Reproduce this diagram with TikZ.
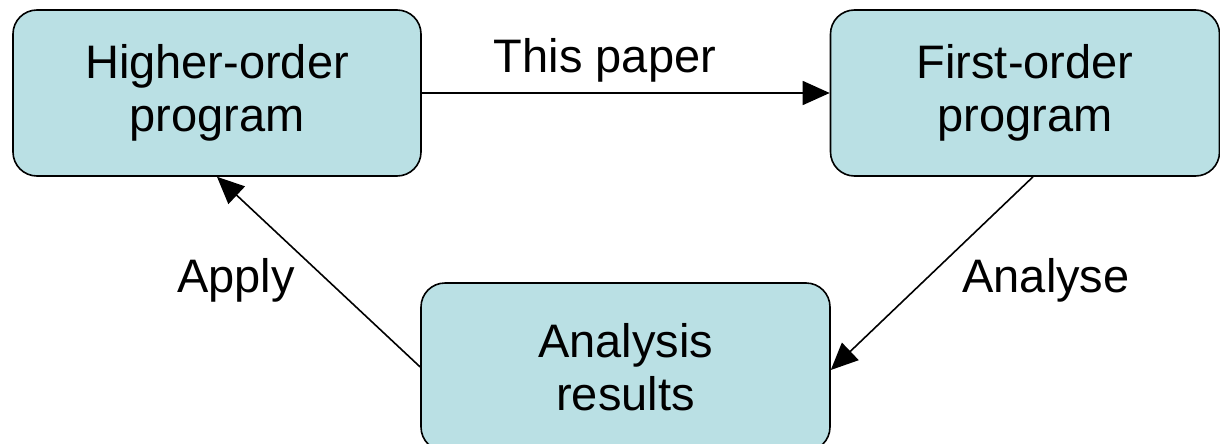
\documentclass[tikz,border=0pt]{standalone}
\usepackage{fontspec}
\setmainfont{Liberation Sans}
\usetikzlibrary{arrows.meta}
\definecolor{boxfill}{RGB}{186,224,228}
\tikzset{
  stagebox/.style={draw=black, line width=1.6pt, fill=boxfill, rounded corners=24pt,
    align=center, inner sep=0pt, font=\fontsize{47}{53}\selectfont},
  flow/.style={line width=1.6pt, -{Triangle[length=27pt,width=24pt]}},
  lbl/.style={anchor=base, inner sep=0pt, font=\fontsize{47}{53}\selectfont}
}
\begin{document}
\begin{tikzpicture}[x=1pt,y=-1pt]
\useasboundingbox (0,0) rectangle (1220,444);
\clip (0,0) rectangle (1220,444);
\node[stagebox, minimum width=408pt, minimum height=166pt] (L) at (217,93) {Higher-order\\program};
\node[stagebox, minimum width=389pt, minimum height=166pt] (R) at (1025,93) {First-order\\program};
\node[stagebox, minimum width=409pt, minimum height=168pt] (B) at (625.5,367) {Analysis\\results};
\draw[flow] (L) -- (R);
\draw[flow] (B.west) -- (L.south);
\draw[flow] ([xshift=8pt]R.south) -- ([yshift=-3pt]B.east);
\node[lbl] (tp) at (605,72) {This paper};
\node[lbl] (ap) at (236,292) {Apply};
\node[lbl] (an) at (1046,292) {Analyse};
\end{tikzpicture}
\end{document}
